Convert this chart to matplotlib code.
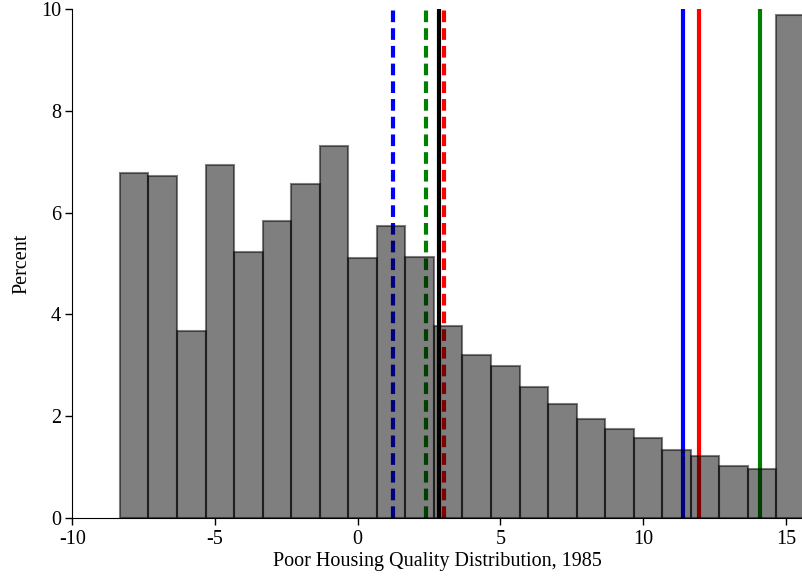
#! /usr/bin/env python3

# Imports
import matplotlib
matplotlib.use("Agg")
import matplotlib.pyplot as plt
import numpy as np


# Data
bin_left = [-8.33, -7.33, -6.33, -5.33, -4.33, -3.33, -2.33, -1.33,
            -0.33, 0.67, 1.67, 2.67, 3.67, 4.67, 5.67, 6.67,
            7.67, 8.67, 9.67, 10.67, 11.67, 12.67, 13.67, 14.67]
percent = [6.78, 6.72, 3.68, 6.94, 5.22, 5.84, 6.57, 7.31,
           5.11, 5.74, 5.13, 3.77, 3.20, 2.99, 2.58, 2.24,
           1.94, 1.75, 1.57, 1.33, 1.22, 1.02, 0.96, 9.88]

dashed_x = [1.25, 2.38, 3.01]
dashed_colors = ["blue", "green", "red"]
solid_x = [2.86, 11.39, 11.95, 14.10]
solid_colors = ["black", "blue", "red", "green"]

x_ticks = [-10, -5, 0, 5, 10, 15]
y_ticks = [0, 2, 4, 6, 8, 10]


# Configuration
plt.rcParams["font.family"] = ["Liberation Serif", "DejaVu Serif"]
plt.rcParams["font.size"] = 14.5
plt.rcParams["axes.unicode_minus"] = False


# Code
fig = plt.figure(figsize=(8.03, 5.83), dpi=100)
ax = fig.add_axes([0.09, 0.1115, 0.91, 0.873])

for x, c in zip(dashed_x, dashed_colors):
    ax.axvline(x, color=c, linewidth=3, linestyle=(0, (2.8, 1.45)), zorder=1)
for x, c in zip(solid_x, solid_colors):
    ax.axvline(x, color=c, linewidth=3, zorder=1)

ax.bar(bin_left, percent, width=1, align="edge", color="black", alpha=0.5,
       edgecolor="black", linewidth=1.5, zorder=2)

ax.set_xlim(-10, 15.6)
ax.set_ylim(0, 10)
ax.set_xticks(x_ticks)
ax.set_yticks(y_ticks)
ax.spines["top"].set_visible(False)
ax.spines["right"].set_visible(False)
ax.tick_params(direction="out", length=5, width=1)
ax.tick_params(axis="x", pad=4)
ax.tick_params(axis="y", pad=3)
ax.set_xlabel("Poor Housing Quality Distribution, 1985", labelpad=2)
ax.set_ylabel("Percent", labelpad=7)

plt.savefig("out.png", dpi=100)
